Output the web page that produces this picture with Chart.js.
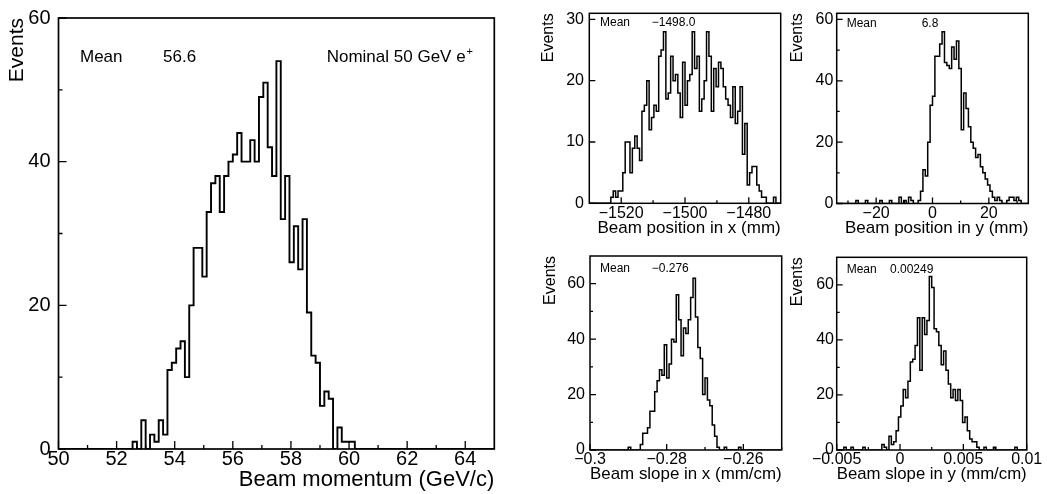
<!DOCTYPE html>
<html>
<head>
<meta charset="utf-8">
<script src="https://cdn.jsdelivr.net/npm/chart.js@4.4.0/dist/chart.umd.min.js"></script>
<style>
html, body { margin: 0; padding: 0; background: #fff; }
#wrap { position: relative; width: 1047px; height: 494px; overflow: hidden; }
#wrap canvas { position: absolute; left: 0; top: 0; }
</style>
</head>
<body>
<div id="wrap">
  <canvas id="momentumChart" width="1047" height="494"></canvas>
  <canvas id="posXChart" width="1047" height="494"></canvas>
  <canvas id="posYChart" width="1047" height="494"></canvas>
  <canvas id="slopeXChart" width="1047" height="494"></canvas>
  <canvas id="slopeYChart" width="1047" height="494"></canvas>
</div>
<script>
// Beam momentum, 100 bins from 50 to 65 GeV/c
const momentumRange = [50, 65];
const momentumCounts = [
    0, 0, 0, 0, 0, 0, 0, 0, 0, 0,
    0, 0, 0, 0, 0, 0, 0, 1, 0, 4,
    0, 2, 1, 4, 2, 11, 12, 14, 15, 10,
    20, 28, 28, 24, 33, 37, 38, 33, 38, 40,
    41, 44, 40, 40, 43, 40, 49, 51, 42, 38,
    54, 32, 38, 26, 31, 25, 32, 19, 13, 12,
    6, 8, 7, 0, 3, 1, 1, 1, 0, 0,
    0, 0, 0, 0, 0, 0, 0, 0, 0, 0,
    0, 0, 0, 0, 0, 0, 0, 0, 0, 0,
    0, 0, 0, 0, 0, 0, 0, 0, 0, 0
];
const momentumTicks = [50, 52, 54, 56, 58, 60, 62, 64];
const momentumMinor = [51, 53, 55, 57, 59, 61, 63];

// Beam position in x (mm)
const posXRange = [-1530, -1470];
const posXCounts = [
    0, 0, 0, 0, 0, 0, 0, 0, 0, 1,
    2, 1, 2, 2, 5, 10, 10, 5, 9, 11,
    9, 7, 15, 16, 20, 12, 14, 16, 15, 24,
    25, 28, 17, 18, 24, 20, 21, 18, 14, 23,
    16, 20, 21, 28, 22, 24, 15, 17, 20, 28,
    24, 15, 22, 19, 23, 22, 19, 17, 16, 14,
    19, 13, 15, 19, 8, 13, 3, 5, 6, 6,
    3, 2, 1, 1, 0, 0, 0, 1, 0, 0
];
const posXTicks = [-1520, -1500, -1480];
const posXMinor = [-1510, -1490];

// Beam position in y (mm)
const posYRange = [-34, 34];
const posYCounts = [
    0, 0, 0, 0, 0, 0, 0, 0, 1, 0,
    0, 0, 1, 0, 0, 0, 0, 0, 1, 0,
    0, 0, 1, 0, 0, 0, 2, 0, 1, 0,
    2, 1, 0, 0, 1, 4, 11, 9, 20, 32,
    35, 48, 48, 52, 56, 46, 45, 44, 51, 47,
    53, 44, 24, 36, 31, 25, 20, 18, 15, 16,
    12, 10, 8, 6, 4, 2, 1, 2, 1, 0,
    0, 1, 2, 2, 1, 2, 1, 0, 0, 0
];
const posYTicks = [-20, 0, 20];
const posYMinor = [-30, -10, 10, 30];

// Beam slope in x (mm/cm)
const slopeXRange = [-0.3, -0.25];
const slopeXCounts = [
    0, 0, 0, 0, 0, 0, 0, 0, 0, 0,
    0, 0, 0, 0, 0, 0, 1, 0, 0, 0,
    0, 2, 6, 6, 8, 14, 14, 21, 25, 29,
    27, 38, 26, 31, 40, 39, 56, 47, 34, 44,
    42, 47, 55, 62, 48, 37, 33, 20, 26, 18,
    16, 9, 5, 1, 0, 0, 1, 0, 0, 0,
    0, 0, 1, 0, 0, 0, 0, 0, 0, 0,
    0, 0, 0, 0, 0, 0, 0, 0, 0, 0
];
const slopeXTicks = [-0.3, -0.28, -0.26];
const slopeXMinor = [-0.29, -0.27, -0.25];

// Beam slope in y (mm/cm)
const slopeYRange = [-0.005, 0.01];
const slopeYCounts = [
    0, 0, 0, 1, 0, 0, 1, 0, 0, 0,
    0, 1, 0, 0, 0, 0, 0, 0, 0, 2,
    1, 0, 5, 2, 3, 7, 12, 16, 22, 19,
    25, 32, 33, 38, 48, 29, 48, 42, 47, 63,
    59, 44, 43, 38, 31, 36, 29, 24, 19, 22,
    18, 22, 18, 10, 12, 7, 4, 3, 3, 1,
    0, 0, 1, 0, 0, 0, 1, 0, 0, 0,
    0, 0, 0, 0, 0, 1, 0, 0, 0, 0
];
const slopeYTicks = [-0.005, 0, 0.005, 0.01];
const slopeYMinor = [-0.0025, 0.0025, 0.0075];

const FONT = "'Liberation Sans', Arial, sans-serif";

// Turn bin contents into step points (outline of the histogram)
function histPoints(counts, range) {
    const w = (range[1] - range[0]) / counts.length;
    const pts = [{ x: range[0], y: 0 }];
    counts.forEach((c, i) => pts.push({ x: range[0] + i * w, y: c }));
    pts.push({ x: range[1], y: 0 });
    return pts;
}

function fmt(v) {
    return String(v).replace('-', '\u2212');
}

// Frame, inward tick marks and the "Mean" labels
function decorPlugin(o) {
    return {
        id: 'decor',
        afterDraw(chart) {
            const { ctx, chartArea: a, scales } = chart;
            ctx.save();
            ctx.strokeStyle = '#000';
            ctx.lineWidth = o.frameWidth;
            ctx.strokeRect(a.left, a.top, a.right - a.left, a.bottom - a.top);
            ctx.lineWidth = 1.3;
            ctx.beginPath();
            o.xTicks.forEach(v => { const p = scales.x.getPixelForValue(v); ctx.moveTo(p, a.bottom); ctx.lineTo(p, a.bottom - o.tickLen); });
            o.xMinor.forEach(v => { const p = scales.x.getPixelForValue(v); ctx.moveTo(p, a.bottom); ctx.lineTo(p, a.bottom - o.tickLen / 2); });
            o.yTicks.forEach(v => { const p = scales.y.getPixelForValue(v); ctx.moveTo(a.left, p); ctx.lineTo(a.left + o.tickLen, p); });
            o.yMinor.forEach(v => { const p = scales.y.getPixelForValue(v); ctx.moveTo(a.left, p); ctx.lineTo(a.left + o.tickLen / 2, p); });
            ctx.stroke();
            ctx.fillStyle = '#000';
            ctx.textBaseline = 'middle';
            ctx.textAlign = 'left';
            o.notes.forEach(n => {
                ctx.font = o.noteSize + 'px ' + FONT;
                ctx.fillText(n.text, a.left + n.dx, a.top + n.dy);
                if (n.sup) {
                    const w = ctx.measureText(n.text).width;
                    ctx.font = Math.round(o.noteSize * 0.65) + 'px ' + FONT;
                    ctx.fillText(n.sup, a.left + n.dx + w + 1, a.top + n.dy - o.noteSize * 0.35);
                }
            });
            ctx.restore();
        }
    };
}

function makePanel(id, o) {
    const ctx = document.getElementById(id).getContext('2d');
    return new Chart(ctx, {
        type: 'line',
        data: {
            datasets: [{
                data: histPoints(o.counts, o.range),
                stepped: true,
                borderColor: '#000',
                borderWidth: o.lineWidth,
                pointRadius: 0,
                fill: false
            }]
        },
        options: {
            responsive: false,
            animation: false,
            events: [],
            layout: {
                autoPadding: false,
                padding: {
                    left: o.frame.left - o.yAxisWidth,
                    top: o.frame.top,
                    right: 1047 - o.frame.right,
                    bottom: 494 - o.frame.bottom - o.xAxisHeight
                }
            },
            plugins: { legend: { display: false }, tooltip: { enabled: false } },
            scales: {
                x: {
                    type: 'linear',
                    min: o.range[0],
                    max: o.range[1],
                    grid: { display: false, drawTicks: false },
                    border: { display: false },
                    afterBuildTicks: s => { s.ticks = o.xTicks.map(v => ({ value: v })); },
                    afterFit: s => { s.height = o.xAxisHeight; },
                    ticks: {
                        color: '#000', padding: o.xTickPad, maxRotation: 0, autoSkip: false,
                        font: { family: FONT, size: o.tickSize, lineHeight: 1 },
                        callback: v => fmt(v)
                    },
                    title: {
                        display: true, text: o.xTitle, align: 'end', color: '#000', padding: 0,
                        font: { family: FONT, size: o.xTitleSize, lineHeight: 1 }
                    }
                },
                y: {
                    min: 0,
                    max: o.yMax,
                    grid: { display: false, drawTicks: false },
                    border: { display: false },
                    afterBuildTicks: s => { s.ticks = o.yTicks.map(v => ({ value: v })); },
                    afterFit: s => { s.width = o.yAxisWidth; },
                    ticks: {
                        color: '#000', padding: o.yTickPad,
                        font: { family: FONT, size: o.tickSize, lineHeight: 1 }
                    },
                    title: {
                        display: true, text: 'Events', align: 'end', color: '#000',
                        padding: { top: o.yTitlePad, bottom: 0 },
                        font: { family: FONT, size: o.yTitleSize, lineHeight: 1 }
                    }
                }
            }
        },
        plugins: [decorPlugin(o)]
    });
}

document.addEventListener('DOMContentLoaded', function() {
    makePanel('momentumChart', {
        counts: momentumCounts, range: momentumRange,
        xTicks: momentumTicks, xMinor: momentumMinor,
        yTicks: [0, 20, 40, 60], yMinor: [10, 30, 50], yMax: 60,
        frame: { left: 58.5, right: 494.3, top: 11, bottom: 449 },
        yAxisWidth: 58.5, xAxisHeight: 42,
        xTickPad: 0, yTickPad: 8, yTitlePad: 7,
        tickSize: 20, xTitleSize: 22, yTitleSize: 21,
        xTitle: 'Beam momentum (GeV/c)',
        lineWidth: 1.9, frameWidth: 1.7, tickLen: 8,
        noteSize: 17,
        notes: [
            { text: 'Mean', dx: 21.5, dy: 39.5 },
            { text: '56.6', dx: 104.5, dy: 39.5 },
            { text: 'Nominal 50 GeV e', dx: 268.2, dy: 39.5, sup: '+' }
        ]
    });

    makePanel('posXChart', {
        counts: posXCounts, range: posXRange,
        xTicks: posXTicks, xMinor: posXMinor,
        yTicks: [0, 10, 20, 30], yMinor: [], yMax: 31,
        frame: { left: 589.3, right: 780.7, top: 13.3, bottom: 203.3 },
        yAxisWidth: 50, xAxisHeight: 33.2,
        xTickPad: 2.7, yTickPad: 5.3, yTitlePad: 1.7,
        tickSize: 16, xTitleSize: 17, yTitleSize: 16,
        xTitle: 'Beam position in x (mm)',
        lineWidth: 1.5, frameWidth: 1.5, tickLen: 6,
        noteSize: 12,
        notes: [
            { text: 'Mean', dx: 10.7, dy: 9.7 },
            { text: '\u22121498.0', dx: 62.4, dy: 9.7 }
        ]
    });

    makePanel('posYChart', {
        counts: posYCounts, range: posYRange,
        xTicks: posYTicks, xMinor: posYMinor,
        yTicks: [0, 20, 40, 60], yMinor: [10, 30, 50], yMax: 62,
        frame: { left: 836.7, right: 1028.3, top: 13.3, bottom: 203.5 },
        yAxisWidth: 50, xAxisHeight: 33.3,
        xTickPad: 2.5, yTickPad: 3.4, yTitlePad: 2.8,
        tickSize: 16, xTitleSize: 17, yTitleSize: 16,
        xTitle: 'Beam position in y (mm)',
        lineWidth: 1.5, frameWidth: 1.5, tickLen: 6,
        noteSize: 12,
        notes: [
            { text: 'Mean', dx: 10, dy: 10.7 },
            { text: '6.8', dx: 85, dy: 10.7 }
        ]
    });

    makePanel('slopeXChart', {
        counts: slopeXCounts, range: slopeXRange,
        xTicks: slopeXTicks, xMinor: slopeXMinor,
        yTicks: [0, 20, 40, 60], yMinor: [10, 30, 50], yMax: 70,
        frame: { left: 590, right: 781.7, top: 256, bottom: 450 },
        yAxisWidth: 50, xAxisHeight: 33.2,
        xTickPad: 2, yTickPad: 5, yTitlePad: 3,
        tickSize: 16, xTitleSize: 17, yTitleSize: 16,
        xTitle: 'Beam slope in x (mm/cm)',
        lineWidth: 1.5, frameWidth: 1.5, tickLen: 6,
        noteSize: 12,
        notes: [
            { text: 'Mean', dx: 10, dy: 13 },
            { text: '\u22120.276', dx: 61.7, dy: 13 }
        ]
    });

    makePanel('slopeYChart', {
        counts: slopeYCounts, range: slopeYRange,
        xTicks: slopeYTicks, xMinor: slopeYMinor,
        yTicks: [0, 20, 40, 60], yMinor: [10, 30, 50], yMax: 70,
        frame: { left: 836.7, right: 1026.7, top: 257.3, bottom: 450 },
        yAxisWidth: 50, xAxisHeight: 33,
        xTickPad: 2, yTickPad: 2.7, yTitlePad: 2.8,
        tickSize: 16, xTitleSize: 17, yTitleSize: 16,
        xTitle: 'Beam slope in y (mm/cm)',
        lineWidth: 1.5, frameWidth: 1.5, tickLen: 6,
        noteSize: 12,
        notes: [
            { text: 'Mean', dx: 10, dy: 12.2 },
            { text: '0.00249', dx: 53.3, dy: 12.2 }
        ]
    });
});
</script>
</body>
</html>
